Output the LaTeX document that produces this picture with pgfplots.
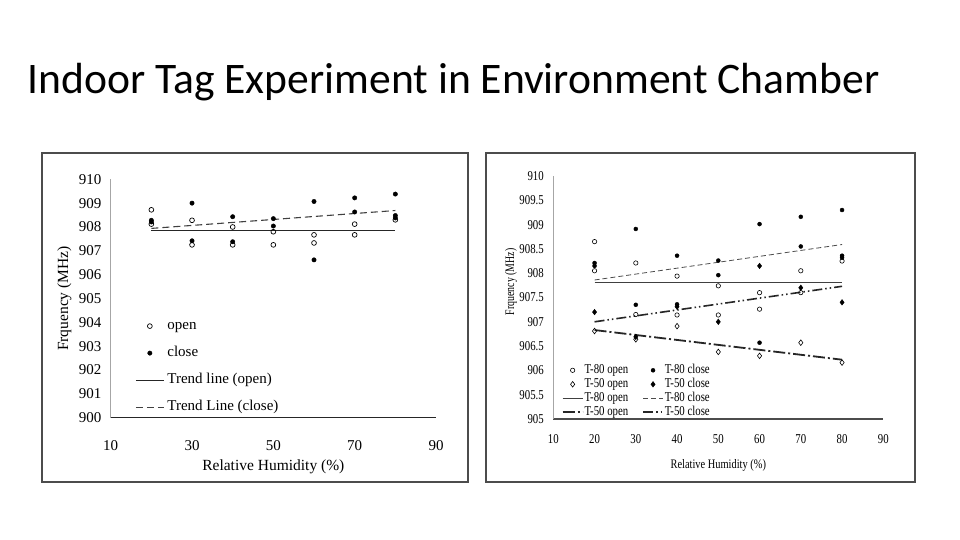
\documentclass[border=0pt]{standalone}
\usepackage{fontspec}
\setmainfont{Liberation Serif}
\newfontfamily\titlefont{Carlito}
\usepackage{pgfplots}
\usepackage{pgfplotstable}
\pgfplotsset{compat=1.18}

\pgfplotstableread{
x y
20 908.72
20 908.12
30 908.28
30 907.25
40 908.00
40 907.25
50 907.80
50 907.25
60 907.67
60 907.33
70 908.12
70 907.67
80 908.30
}\leftopen
\pgfplotstableread{
x y
20 908.28
20 908.21
30 909.00
30 907.42
40 908.43
40 907.38
50 908.35
50 908.04
60 909.07
60 906.62
70 909.22
70 908.63
80 909.38
80 908.48
80 908.38
}\leftclose
\pgfplotstableread{
x y
20 908.65
20 908.05
30 908.21
30 907.15
40 907.94
40 907.14
50 907.74
50 907.14
60 907.60
60 907.26
70 908.05
70 907.60
80 908.25
}\rightAopen
\pgfplotstableread{
x y
20 908.21
20 908.15
30 908.91
30 907.35
40 908.36
40 907.36
50 908.26
50 907.96
60 909.01
60 906.57
70 909.16
70 908.55
80 909.30
80 908.36
80 908.32
}\rightAclose
\pgfplotstableread{
x y
20 906.81
30 906.64
40 906.91
50 906.38
60 906.30
70 906.57
80 906.16
}\rightBopen
\pgfplotstableread{
x y
20 907.20
30 906.69
40 907.31
50 907.00
60 908.15
70 907.70
80 907.40
}\rightBclose

\begin{document}
\begin{tikzpicture}
\fill[white] (0pt,0pt) rectangle (960pt,540pt);
\useasboundingbox (0pt,0pt) rectangle (960pt,540pt);
\node[anchor=base west, inner sep=0pt, font=\titlefont\fontsize{43.6}{50}\selectfont] at (27.5pt,446pt) {Indoor Tag Experiment in Environment Chamber};
\draw[black!70, line width=1.5pt] (42pt,58pt) rectangle (468pt,387pt);
\draw[black!70, line width=1.5pt] (486pt,58pt) rectangle (915pt,387pt);

% ---------------- left chart ----------------
\begin{axis}[
  at={(110.7pt,122.3pt)}, anchor=south west, scale only axis,
  width=325.3pt, height=238.4pt,
  xmin=10, xmax=90, ymin=900, ymax=910,
  xtick={10,30,...,90}, ytick={900,901,...,910},
  axis lines=left, axis line style={-},
  x axis line style={black!85, line width=1.2pt},
  y axis line style={black!35, line width=1.2pt},
  major tick length=0pt,
  /pgf/number format/assume math mode=true,
  tick label style={font=\fontsize{15}{18}\selectfont},
  yticklabel style={xshift=-5.7pt},
  xticklabel style={yshift=-19pt},
  xlabel={Relative Humidity (\%)}, ylabel={Frquency (MHz)},
  label style={font=\fontsize{15.5}{18}\selectfont},
  xlabel style={at={(axis description cs:0.5,-0.205)}, anchor=center},
  ylabel style={at={(axis description cs:-0.142,0.5)}, anchor=center},
  legend cell align=left,
  legend style={draw=none, fill=none, at={(axis description cs:0.075,0.01)}, anchor=south west,
    inner sep=0pt, row sep=11pt, font=\fontsize{15}{18}\selectfont,
    nodes={text height=10.5pt, text depth=3.5pt, inner sep=1pt},
    /tikz/every odd column/.append style={column sep=2pt}},
  legend image code/.code={\draw[mark repeat=2,mark phase=2,#1] plot coordinates {(0pt,0pt) (14pt,0pt) (28pt,0pt)};},
]
\addplot[only marks, mark=o, mark size=2.4pt, mark options={line width=0.7pt}, black] table {\leftopen};
\addlegendentry{open}
\addplot[only marks, mark=*, mark size=2.2pt, black] table {\leftclose};
\addlegendentry{close}
\addplot[black!85, line width=1.1pt] coordinates {(20,907.87) (80,907.87)};
\addlegendentry{Trend line (open)}
\addplot[black!75, line width=1.1pt, dash pattern=on 7pt off 4pt] coordinates {(20,907.94) (80,908.69)};
\addlegendentry{Trend Line (close)}
\end{axis}

% ---------------- right chart ----------------
\begin{axis}[
  at={(553.3pt,121pt)}, anchor=south west, scale only axis,
  width=330pt, height=243pt,
  xmin=10, xmax=90, ymin=905, ymax=910,
  xtick={10,20,...,90}, ytick={905,905.5,...,910},
  axis lines=left, axis line style={-},
  x axis line style={black!70, line width=1.2pt},
  y axis line style={black!35, line width=1.2pt},
  major tick length=0pt,
  /pgf/number format/assume math mode=true,
  tick label style={font=\fontsize{13.5}{16}\selectfont},
  xticklabel={\scalebox{0.8}[1]{\pgfmathprintnumber{\tick}}},
  yticklabel={\scalebox{0.8}[1]{\pgfmathprintnumber{\tick}}},
  yticklabel style={xshift=-6pt},
  xticklabel style={yshift=-12pt},
  xlabel={\scalebox{0.8}[1]{Relative Humidity (\%)}}, ylabel={\scalebox{0.76}[1]{Frquency (MHz)}},
  label style={font=\fontsize{13}{16}\selectfont},
  xlabel style={at={(axis description cs:0.5,-0.189)}, anchor=center},
  ylabel style={at={(axis description cs:-0.128,0.564)}, anchor=center},
  legend columns=2,
  legend cell align=left,
  legend style={draw=none, fill=none, at={(axis description cs:0.025,0.0)}, anchor=south west,
    inner sep=0pt, row sep=1pt, font=\fontsize{13.5}{16}\selectfont,
    nodes={text height=8.5pt, text depth=2.5pt, inner sep=1pt},
    /tikz/every even column/.append style={column sep=13pt}},
  legend image code/.code={\draw[mark repeat=2,mark phase=2,#1] plot coordinates {(0pt,0pt) (10pt,0pt) (20pt,0pt)};},
]
\addplot[only marks, mark=o, mark size=2.2pt, mark options={line width=0.6pt}, black] table {\rightAopen};
\addlegendentry{\scalebox{0.8}[1]{T-80 open}}
\addplot[only marks, mark=*, mark size=2pt, black] table {\rightAclose};
\addlegendentry{\scalebox{0.8}[1]{T-80 close}}
\addplot[only marks, mark=diamond, mark size=2.8pt, mark options={line width=0.6pt}, black] table {\rightBopen};
\addlegendentry{\scalebox{0.8}[1]{T-50 open}}
\addplot[only marks, mark=diamond*, mark size=2.8pt, black] table {\rightBclose};
\addlegendentry{\scalebox{0.8}[1]{T-50 close}}
\addplot[black!75, line width=1pt] coordinates {(20,907.80) (80,907.80)};
\addlegendentry{\scalebox{0.8}[1]{T-80 open}}
\addplot[black!70, line width=0.8pt, dash pattern=on 5pt off 3pt] coordinates {(20,907.86) (80,908.59)};
\addlegendentry{\scalebox{0.8}[1]{T-80 close}}
\addplot[black!85, line width=1.8pt, dash pattern=on 12pt off 3pt on 2pt off 3pt] coordinates {(20,906.83) (80,906.22)};
\addlegendentry{\scalebox{0.8}[1]{T-50 open}}
\addplot[black!85, line width=1.6pt, dash pattern=on 10pt off 3pt on 1.5pt off 3pt on 1.5pt off 3pt] coordinates {(20,907.00) (80,907.73)};
\addlegendentry{\scalebox{0.8}[1]{T-50 close}}
\end{axis}
\end{tikzpicture}
\end{document}
